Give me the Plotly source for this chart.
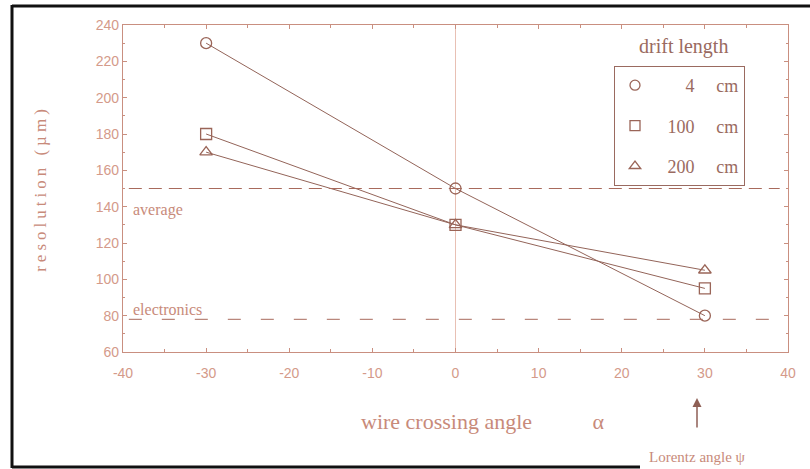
import plotly.graph_objects as go

# ---- data ----
angles = [-30, 0, 30]
res_4cm = [230, 150, 80]
res_100cm = [180, 130, 95]
res_200cm = [170, 130, 105]
series_names = ["\u2002\u2009\u2007\u20074\u2003\u2009cm", "\u2002\u2009100\u2003\u2009cm", "\u2002\u2009200\u2003\u2009cm"]
series_symbols = ["circle-open", "square-open", "triangle-up-open"]
average_level = 150
electronics_level = 78
x_ticks = [-40, -30, -20, -10, 0, 10, 20, 30, 40]
y_ticks = [60, 80, 100, 120, 140, 160, 180, 200, 220, 240]

W, H = 810, 469
L, R, T, B = 123, 22, 25, 117

def px(xp):
    return (xp - L) / (W - L - R)

def py(yp):
    return (H - B - yp) / (H - T - B)

AX = "#c98f80"
LINE = "#936459"
MARK = "#9a6558"
TXT = "#c88a7a"
SERIF = "Liberation Serif, Times New Roman, serif"
SANS = "Liberation Sans, Arial, sans-serif"

fig = go.Figure()

for vals, sym in zip([res_4cm, res_100cm, res_200cm], series_symbols):
    fig.add_trace(go.Scatter(
        x=angles, y=vals, mode="lines+markers", showlegend=False,
        line=dict(color=LINE, width=1),
        marker=dict(symbol=sym, size=11, color=MARK, line=dict(width=1.3, color=MARK)),
    ))

# legend-only entries (marker only)
for i, (name, sym) in enumerate(zip(series_names, series_symbols)):
    fig.add_trace(go.Scatter(
        x=[None], y=[None], mode="markers", name=name, legendgroup=f"g{i}",
        marker=dict(symbol=sym, size=10, color=MARK, line=dict(width=1.3, color=MARK)),
    ))

# reference lines (stop short of the plot edges as in the reference)
fig.add_shape(type="line", xref="x", yref="y", x0=-39.3, x1=39.0,
              y0=average_level, y1=average_level,
              line=dict(color="#a86a5c", width=1, dash="13px,7px"))
fig.add_shape(type="line", xref="x", yref="y", x0=-39.3, x1=39.0,
              y0=electronics_level, y1=electronics_level,
              line=dict(color="#a86a5c", width=1, dash="13px,20px"))

fig.add_annotation(x=-40, y=average_level, xref="x", yref="y", text="average",
                   showarrow=False, xanchor="left", yanchor="top", xshift=8, yshift=-10,
                   font=dict(family=SERIF, size=16, color=TXT))
fig.add_annotation(x=-40, y=electronics_level, xref="x", yref="y", text="electronics",
                   showarrow=False, xanchor="left", yanchor="bottom", xshift=8, yshift=-1,
                   font=dict(family=SERIF, size=16, color=TXT))

# legend title
fig.add_annotation(x=px(683), y=py(47), xref="paper", yref="paper", text="drift length",
                   showarrow=False, xanchor="center", yanchor="middle",
                   font=dict(family=SERIF, size=20, color="#9a6a60"))

# x-axis title
fig.add_annotation(x=px(483), y=py(421), xref="paper", yref="paper",
                   text="wire crossing angle \u2003\u2003\u2002\u03b1",
                   showarrow=False, xanchor="center", yanchor="middle",
                   font=dict(family=SERIF, size=22, color=TXT))

# Lorentz angle arrow
fig.add_annotation(x=px(697), y=py(398), xref="paper", yref="paper",
                   text="Lorentz angle \u03c8", showarrow=True, arrowhead=2, arrowsize=1.2,
                   arrowwidth=1.5, arrowcolor="#8e5f55", ax=0, ay=59, startstandoff=20,
                   font=dict(family=SERIF, size=15, color=TXT))

# scan frame
for x0, y0, x1, y1 in [(12, 5, 12, 468), (12, 6, 810, 6), (12, 467, 640, 467)]:
    fig.add_shape(type="line", xref="paper", yref="paper",
                  x0=px(x0), y0=py(y0), x1=px(x1), y1=py(y1),
                  line=dict(color="#111111", width=3))

axis_common = dict(
    showline=True, linecolor=AX, linewidth=1.2, mirror="allticks",
    ticks="inside", ticklen=4, tickcolor=AX, tickwidth=1,
    showgrid=False,
    tickfont=dict(family=SANS, size=14, color="#d49a8a"),
)

fig.update_xaxes(range=[-40, 40], tickvals=x_ticks,
                 ticktext=[str(v) for v in x_ticks],
                 zeroline=True, zerolinecolor="#e8c0b4", zerolinewidth=1,
                 minor=dict(dtick=5, ticks="inside", ticklen=3, tickcolor=AX),
                 ticklabelstandoff=8, **axis_common)
fig.update_yaxes(range=[60, 240], tickvals=y_ticks, zeroline=False,
                 minor=dict(dtick=10, ticks="inside", ticklen=2, tickcolor=AX),
                 title=dict(text="resolution (\u00b5m)", standoff=44,
                            font=dict(family=SERIF, size=17, color=TXT)),
                 **axis_common)

fig.update_layout(
    width=W, height=H,
    margin=dict(l=L, r=R, t=T, b=B),
    paper_bgcolor="white", plot_bgcolor="white",
    legend=dict(x=px(614), y=py(66), xanchor="left", yanchor="top",
                bgcolor="white", bordercolor="#9a6a60", borderwidth=1,
                font=dict(family=SERIF, size=18, color="#9a6a60"),
                tracegroupgap=14, itemwidth=30),
)

fig.write_html(
    "out.html",
    post_script=(
        "document.body.style.margin='0';document.body.style.overflow='hidden';"
        "document.querySelectorAll('.ytitle').forEach(function(e){e.style.letterSpacing='4px';});"
    ),
)
